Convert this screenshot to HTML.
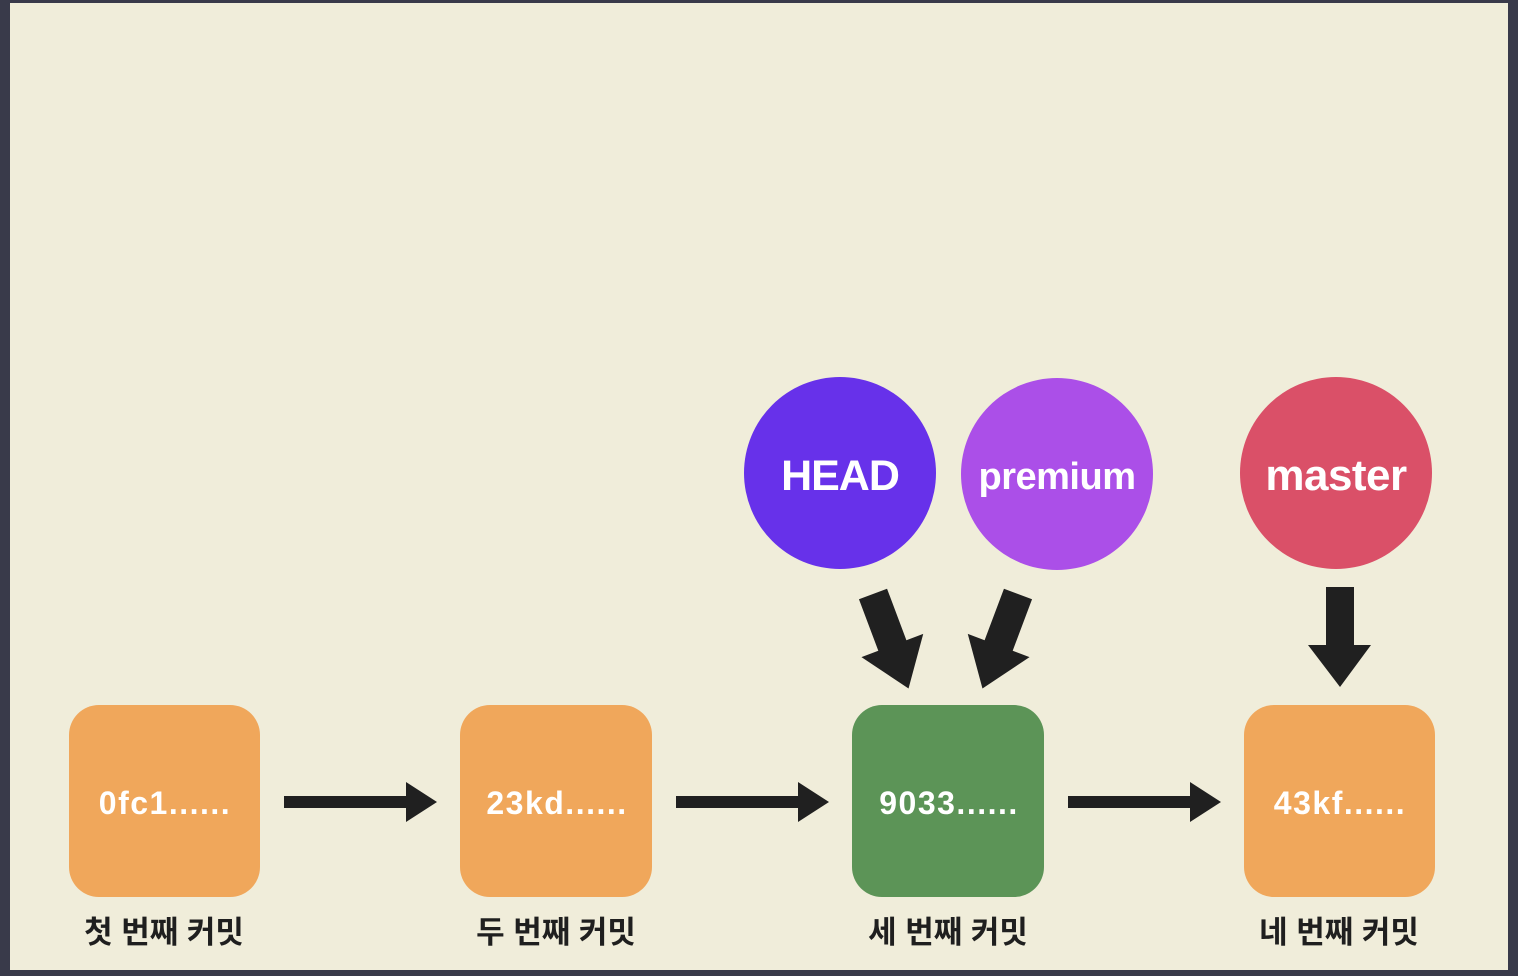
<!DOCTYPE html>
<html><head><meta charset="utf-8"><style>
html,body{margin:0;padding:0;width:1518px;height:976px;overflow:hidden;background:#393a4a}
svg{display:block}
</style></head><body>
<svg width="1518" height="976" viewBox="0 0 1518 976" xmlns="http://www.w3.org/2000/svg">
<rect x="0" y="0" width="1518" height="976" fill="#393a4a"/>
<rect x="10" y="3" width="1498" height="967" fill="#f0edda"/>
<g fill="#f0a75b">
<rect x="69" y="705" width="191" height="192" rx="30"/>
<rect x="460" y="705" width="192" height="192" rx="30"/>
<rect x="1244" y="705" width="191" height="192" rx="30"/>
</g>
<rect x="852" y="705" width="192" height="192" rx="30" fill="#5c9457"/>
<g font-family="Liberation Sans, sans-serif" font-weight="bold" font-size="32" fill="#fff" text-anchor="middle" letter-spacing="1.5">
<text x="165" y="814">0fc1......</text>
<text x="557" y="814">23kd......</text>
<text x="949" y="814">9033......</text>
<text x="1340" y="814">43kf......</text>
</g>
<g font-family="Liberation Sans, 'Noto Sans CJK KR', sans-serif" font-weight="bold" font-size="31" fill="#1f1f1f" text-anchor="middle">
<text x="164" y="943">첫 번째 커밋</text>
<text x="556" y="943">두 번째 커밋</text>
<text x="948" y="943">세 번째 커밋</text>
<text x="1339" y="943">네 번째 커밋</text>
</g>
<g fill="#202020">
<polygon points="284,796 406,796 406,782 437,802 406,822 406,808 284,808"/>
<polygon points="676,796 798,796 798,782 829,802 798,822 798,808 676,808"/>
<polygon points="1068,796 1190,796 1190,782 1221,802 1190,822 1190,808 1068,808"/>
<polygon points="1326,587 1354,587 1354,645 1371,645 1340,687 1308,645 1326,645"/>
<g transform="translate(873,594) rotate(-20.6)"><polygon points="-15,0 15,0 15,55 33,55 0,101 -33,55 -15,55"/></g>
<g transform="translate(1018,594) rotate(20.6)"><polygon points="-15,0 15,0 15,55 33,55 0,101 -33,55 -15,55"/></g>
</g>
<circle cx="840" cy="473" r="96" fill="#6731ea"/>
<circle cx="1057" cy="474" r="96" fill="#ab4fe8"/>
<circle cx="1336" cy="473" r="96" fill="#da5068"/>
<g font-family="Liberation Sans, sans-serif" font-weight="bold" fill="#fff" text-anchor="middle">
<text x="840" y="490" font-size="43" letter-spacing="-1">HEAD</text>
<text x="1057" y="489" font-size="38" letter-spacing="-0.5">premium</text>
<text x="1336" y="490" font-size="44" letter-spacing="-0.5">master</text>
</g>
</svg>
</body></html>
